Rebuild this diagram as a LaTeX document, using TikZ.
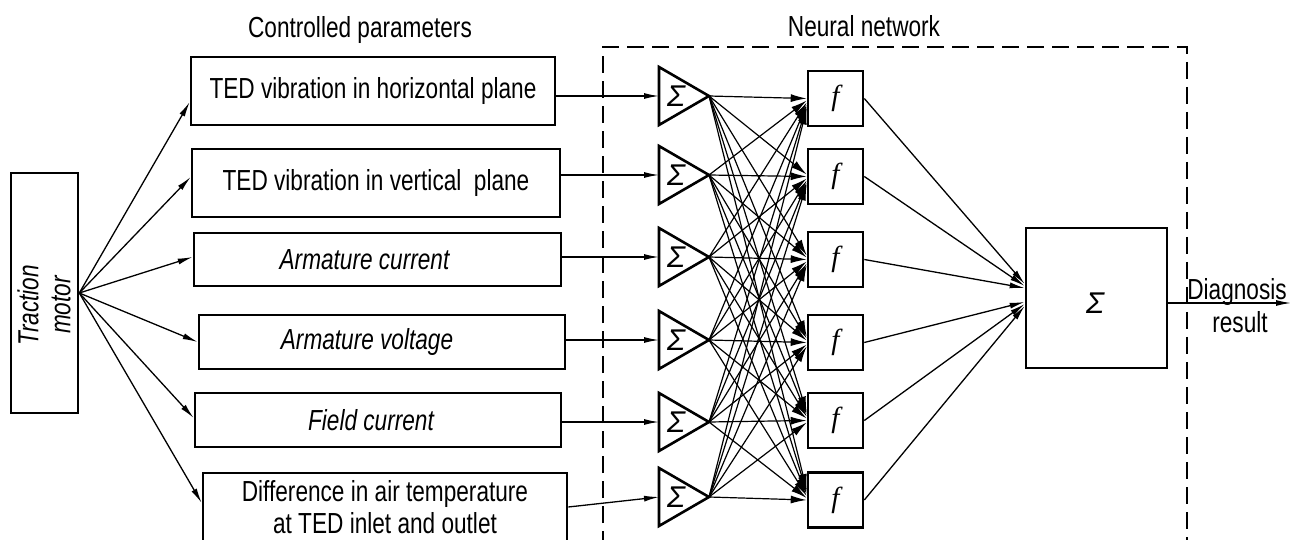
\documentclass[tikz,border=0pt]{standalone}
\usepackage{fontspec}
\setmainfont{Liberation Sans}
\newfontfamily\gost[FakeStretch=0.78]{Liberation Sans}
\newfontfamily\sigfont{Liberation Sans}
\newfontfamily\ffont{Liberation Serif}
\usetikzlibrary{arrows.meta}
\tikzset{
  txt/.style={font=\gost\fontsize{29}{32}\selectfont, align=center, inner sep=0pt},
  itxt/.style={font=\gost\itshape\fontsize{29}{32}\selectfont, align=center, inner sep=0pt},
  frame/.style={draw, line width=2.6pt},
  param/.style={frame, inner sep=0pt},
  conn/.style={line width=1.3pt, -{Latex[length=15pt,width=6pt]}},
  hconn/.style={line width=1.2pt, -{Latex[length=16pt,width=8pt]}},
  fbox/.style={frame, minimum width=55pt, minimum height=55pt, inner sep=0pt,
    font=\ffont\itshape\fontsize{29}{29}\selectfont},
  sig/.style={inner sep=0pt, font=\sigfont\itshape\fontsize{30}{30}\selectfont},
  tri/.style={line width=2.6pt, line join=miter},
  nnframe/.style={line width=1.8pt, dash pattern=on 17pt off 8pt},
}
\begin{document}
\begin{tikzpicture}[x=1pt,y=-1pt]
\useasboundingbox (0,0) rectangle (1291,540);

% headings
\node[txt, anchor=base] (h1) at (360,38) {Controlled parameters};
\node[txt, anchor=base] (h2) at (864,37) {Neural network};

% traction motor
\node[frame, minimum width=67pt, minimum height=240pt, inner sep=0pt] (tm) at (44.5,293) {};
\node[itxt, rotate=90] (tmt) at (44,305) {Traction\\motor};

% parameter boxes
\node[param, txt, minimum width=364pt, minimum height=68pt] (b1) at (373,91) {TED vibration in horizontal plane};
\node[param, txt, minimum width=368pt, minimum height=68pt] (b2) at (376,183) {TED vibration in vertical\ \ plane};
\node[param, itxt, minimum width=367pt, minimum height=53pt] (b3) at (377.5,259.5) {\hspace*{-26pt}Armature current};
\node[param, itxt, minimum width=366pt, minimum height=54pt] (b4) at (382,342) {\hspace*{-30pt}Armature voltage};
\node[param, itxt, minimum width=366pt, minimum height=54pt] (b5) at (378,420) {\hspace*{-14pt}Field current};
\node[param, txt, minimum width=364pt, minimum height=76pt] (b6) at (385,511)
  {\raisebox{5pt}{\begin{tabular}{@{}c@{}}Difference in air temperature\\at TED inlet and outlet\end{tabular}}};

% traction motor -> parameters
\draw[conn] (tm.east) -- ([yshift=-11pt]b1.west);
\draw[conn] (tm.east) -- ([yshift=6pt]b2.west);
\draw[conn] (tm.east) -- ([yshift=2.5pt]b3.west);
\draw[conn] (tm.east) -- (b4.west);
\draw[conn] (tm.east) -- ([yshift=2pt]b5.west);
\draw[conn] (tm.east) -- ([yshift=8pt]b6.west);

% neural network frame
\draw[nnframe] (603,548) -- (603,47) -- (1187,47) -- (1187,548);

% summing triangles
\foreach \i/\c in {1/96,2/175,3/257,4/340,5/422,6/497}{
  \draw[tri] (659,\c-29) -- (709,\c) -- (659,\c+29) -- cycle;
  \coordinate (si\i) at (659,\c);
  \coordinate (so\i) at (709,\c);
  \node[sig] (sg\i) at (676,\c) {Σ};
}

% inputs -> triangles
\draw[conn] (b1.east |- si1) -- (si1);
\draw[conn] (b2.east |- si2) -- (si2);
\draw[conn] (b3.east |- si3) -- (si3);
\draw[conn] (b4.east |- si4) -- (si4);
\draw[conn] (b5.east |- si5) -- (si5);
\draw[conn] ([yshift=4pt]b6.east) -- (si6);

% activation boxes
\foreach \i/\c in {1/98.5,2/176.5,3/259.5,4/342.5,5/420.5,6/500}{
  \node[fbox] (f\i) at (835.5,\c) {\raisebox{4pt}{f}};
}

% full connections
\foreach \i in {1,...,6}{
  \foreach \j in {1,...,6}{
    \draw[hconn] (so\i) -- ([yshift={2*(\j-\i)*1pt}]f\j.west);
  }
}

% output summation
\node[frame, minimum width=141pt, minimum height=140pt, inner sep=0pt] (big) at (1096.5,298) {};
\node[sig] (bigs) at (1095,303) {Σ};
\foreach \j/\s in {1/14,2/12,3/10,4/-4,5/-6,6/-8}{
  \draw[conn] (f\j.east) -- ([yshift=\s pt]big.west);
}

\coordinate (out) at (1291,303);
\draw[conn] ([yshift=-5pt]big.east) -- (out);
\node[txt, anchor=base] (d1) at (1237,299) {Diagnosis};
\node[txt, anchor=base] (d2) at (1240,332) {result};
\end{tikzpicture}
\end{document}
